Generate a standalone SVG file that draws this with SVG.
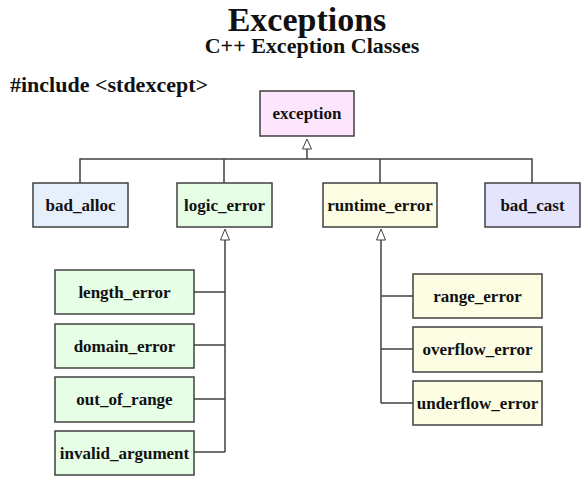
<svg xmlns="http://www.w3.org/2000/svg" width="588" height="485" viewBox="0 0 588 485">
<defs>
<style>
text{font-family:"Liberation Serif","Times New Roman",serif;font-weight:bold;fill:#111}
.lbl{font-size:17px;text-anchor:middle;dominant-baseline:central}
.box{stroke:#404040;stroke-width:1.5}
.c{fill:none;stroke:#404040;stroke-width:1.5}
.tri{fill:#fff;stroke:#404040;stroke-width:1}
.pink{fill:#fde6fd}.blue{fill:#e6f0fd}.green{fill:#e6fde6}.yellow{fill:#fdfde3}.lav{fill:#e4e4fd}
</style>
</defs>
<rect width="588" height="485" fill="#fff"/>
<text x="307" y="31" font-size="34" text-anchor="middle">Exceptions</text>
<text x="312" y="53" font-size="22" text-anchor="middle">C++ Exception Classes</text>
<text x="10" y="92" font-size="22">#include &lt;stdexcept&gt;</text>

<g id="connectors">
<path class="c" d="M307,159 V149"/>
<path class="tri" d="M307,139 L311.5,149 L302.5,149 Z"/>
<path class="c" d="M80,183 V159 H532 V183 M224,159 V183 M380,159 V183"/>
<path class="c" d="M225,452 V240"/>
<path class="tri" d="M225,229 L229.5,240 L220.5,240 Z"/>
<path class="c" d="M194,292 H225 M194,345 H225 M194,399 H225 M194,452 H225"/>
<path class="c" d="M381,403 V240"/>
<path class="tri" d="M381,229 L385.5,240 L376.5,240 Z"/>
<path class="c" d="M381,296 H413 M381,349 H413 M381,403 H413"/>
</g>

<g id="exception"><rect class="box pink" x="260" y="91" width="94" height="45"/><text class="lbl" x="307" y="113">exception</text></g>
<g id="bad_alloc"><rect class="box blue" x="33" y="183" width="95" height="44"/><text class="lbl" x="80.5" y="205">bad_alloc</text></g>
<g id="logic_error"><rect class="box green" x="177" y="183" width="95" height="44"/><text class="lbl" x="224.5" y="205">logic_error</text></g>
<g id="runtime_error"><rect class="box yellow" x="323" y="183" width="114" height="44"/><text class="lbl" x="380" y="205">runtime_error</text></g>
<g id="bad_cast"><rect class="box lav" x="485" y="183" width="95" height="44"/><text class="lbl" x="532.5" y="205">bad_cast</text></g>

<g id="length_error"><rect class="box green" x="55" y="270" width="139" height="44"/><text class="lbl" x="124.5" y="292">length_error</text></g>
<g id="domain_error"><rect class="box green" x="55" y="324" width="139" height="44"/><text class="lbl" x="124.5" y="346">domain_error</text></g>
<g id="out_of_range"><rect class="box green" x="55" y="377" width="139" height="45"/><text class="lbl" x="124.5" y="399">out_of_range</text></g>
<g id="invalid_argument"><rect class="box green" x="55" y="431" width="139" height="44"/><text class="lbl" x="124.5" y="453">invalid_argument</text></g>

<g id="range_error"><rect class="box yellow" x="413" y="274" width="129" height="44"/><text class="lbl" x="477.5" y="296">range_error</text></g>
<g id="overflow_error"><rect class="box yellow" x="413" y="327" width="129" height="45"/><text class="lbl" x="477.5" y="349">overflow_error</text></g>
<g id="underflow_error"><rect class="box yellow" x="413" y="381" width="129" height="44"/><text class="lbl" x="477.5" y="403">underflow_error</text></g>
</svg>
